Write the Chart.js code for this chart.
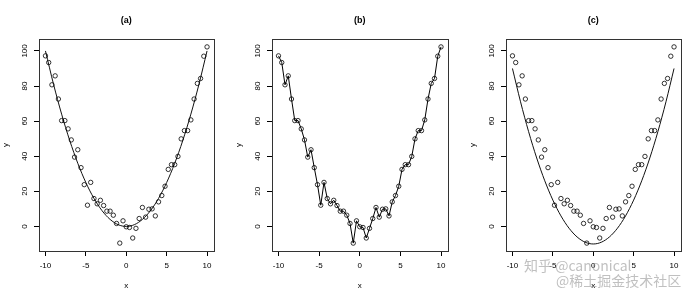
<!DOCTYPE html>
<html>
<head>
<meta charset="utf-8">
<script src="https://cdn.jsdelivr.net/npm/chart.js@4/dist/chart.umd.min.js"></script>
<style>
  body { margin: 0; background: #fff; width: 700px; height: 300px; position: relative; overflow: hidden; }
  canvas { position: absolute; top: 0; }
  .wm { position: absolute; font-family: "Noto Sans CJK SC"; color: rgba(150, 150, 150, 0.6); white-space: nowrap; }
</style>
</head>
<body>
<canvas id="panelA" width="233" height="300" style="left:0px"></canvas>
<canvas id="panelB" width="234" height="300" style="left:233px"></canvas>
<canvas id="panelC" width="233" height="300" style="left:467px"></canvas>
<div class="wm" style="left:524px; top:255px; font-size:14px">知乎 @canonical</div>
<div class="wm" style="left:556px; top:270px; font-size:14px">@稀土掘金技术社区</div>
<script>
// observed points (same sample in all three panels)
const xVals = [-10, -9.6, -9.2, -8.8, -8.4, -8, -7.6, -7.2, -6.8, -6.4, -6, -5.6, -5.2, -4.8, -4.4, -4, -3.6,
  -3.2, -2.8, -2.4, -2, -1.6, -1.2, -0.8, -0.4, 0, 0.4, 0.8, 1.2, 1.6, 2, 2.4, 2.8, 3.2, 3.6, 4, 4.4,
  4.8, 5.2, 5.6, 6, 6.4, 6.8, 7.2, 7.6, 8, 8.4, 8.8, 9.2, 9.6, 10];
const yVals = [97.2, 93.4, 80.7, 85.8, 72.6, 60.3, 60.3, 55.6, 49.3, 39.5, 43.7, 33.5, 23.8, 12.1, 25.1, 15.9, 12.9,
  14.9, 11.9, 8.7, 8.7, 6.4, 1.7, -9.5, 3.2, -0.2, -0.6, -6.6, -1.1, 4.5, 10.8, 5.3, 9.8, 10.0, 6.0, 14.0, 17.6,
  22.9, 32.5, 35.2, 35.2, 39.9, 49.9, 54.6, 54.6, 60.7, 72.6, 81.5, 84.3, 97.0, 102.3];

// fitted curves (a) and (c)
const fitX = [-10, -9, -8, -7, -6, -5, -4, -3, -2, -1, 0, 1, 2, 3, 4, 5, 6, 7, 8, 9, 10];
const fitA = [100, 81, 64, 49, 36, 25, 16, 9, 4, 1, 0, 1, 4, 9, 16, 25, 36, 49, 64, 81, 100];
const fitC = [90, 71, 54, 39, 26, 15, 6, -1, -6, -9, -10, -9, -6, -1, 6, 15, 26, 39, 54, 71, 90];

const xTicks = [-10, -5, 0, 5, 10];
const yTicks = [0, 20, 40, 60, 80, 100];

const font = { family: "'Liberation Sans', Arial, sans-serif", size: 8 };

const pts = (xs, ys) => xs.map((x, i) => ({ x: x, y: ys[i] }));

// box round the plot + panel letter
const framePlugin = {
  id: "frame",
  afterDraw(chart, args, opts) {
    const { ctx, chartArea: a } = chart;
    ctx.save();
    ctx.strokeStyle = "#333";
    ctx.lineWidth = 1;
    ctx.strokeRect(Math.round(a.left) + 0.5, Math.round(a.top) + 0.5,
      Math.round(a.right - a.left), Math.round(a.bottom - a.top));
    ctx.fillStyle = "#000";
    ctx.font = "bold 9px 'Liberation Sans', Arial, sans-serif";
    ctx.textAlign = "center";
    ctx.textBaseline = "middle";
    ctx.fillText(opts.text, (a.left + a.right) / 2, 21);
    ctx.restore();
  }
};

function makePanel(id, letter, datasets) {
  new Chart(document.getElementById(id), {
    type: "scatter",
    data: { datasets: datasets },
    plugins: [framePlugin],
    options: {
      responsive: false,
      animation: false,
      layout: { padding: { top: 39, right: 19.5, left: 0, bottom: 0 } },
      plugins: {
        legend: { display: false },
        tooltip: { enabled: false },
        frame: { text: letter }
      },
      scales: {
        x: {
          type: "linear",
          min: -10.8,
          max: 10.8,
          afterBuildTicks: s => { s.ticks = xTicks.map(v => ({ value: v })); },
          afterFit: s => { s.height = 49; },
          grid: { display: true, drawOnChartArea: false, drawTicks: true, tickLength: 5, color: "#000" },
          border: { display: true, color: "#000" },
          ticks: { font: font, color: "#000", padding: 5, maxRotation: 0 },
          title: { display: true, text: "x", font: font, color: "#000", padding: { top: 0, bottom: 9 } }
        },
        y: {
          type: "linear",
          min: -14,
          max: 106.8,
          afterBuildTicks: s => { s.ticks = yTicks.map(v => ({ value: v })); },
          afterFit: s => { s.width = 39; },
          grid: { display: true, drawOnChartArea: false, drawTicks: true, tickLength: 5, color: "#000" },
          border: { display: true, color: "#000" },
          ticks: { font: font, color: "#000", padding: 3, minRotation: 90, maxRotation: 90, crossAlign: "center" },
          title: { display: true, text: "y", font: font, color: "#000", padding: { top: 1, bottom: 0 } }
        }
      }
    }
  });
}

const pointStyle = {
  pointRadius: 2.2,
  pointBorderWidth: 0.8,
  pointBorderColor: "#000",
  pointBackgroundColor: "rgba(0,0,0,0)",
  borderColor: "#000",
  backgroundColor: "rgba(0,0,0,0)"
};

const curveStyle = {
  showLine: true,
  pointRadius: 0,
  borderColor: "#111",
  borderWidth: 1,
  cubicInterpolationMode: "monotone"
};

makePanel("panelA", "(a)", [
  Object.assign({ data: pts(xVals, yVals) }, pointStyle),
  Object.assign({ data: pts(fitX, fitA) }, curveStyle)
]);

makePanel("panelB", "(b)", [
  Object.assign({ data: pts(xVals, yVals), showLine: true, borderWidth: 1 }, pointStyle)
]);

makePanel("panelC", "(c)", [
  Object.assign({ data: pts(xVals, yVals) }, pointStyle),
  Object.assign({ data: pts(fitX, fitC) }, curveStyle)
]);
</script>
</body>
</html>
